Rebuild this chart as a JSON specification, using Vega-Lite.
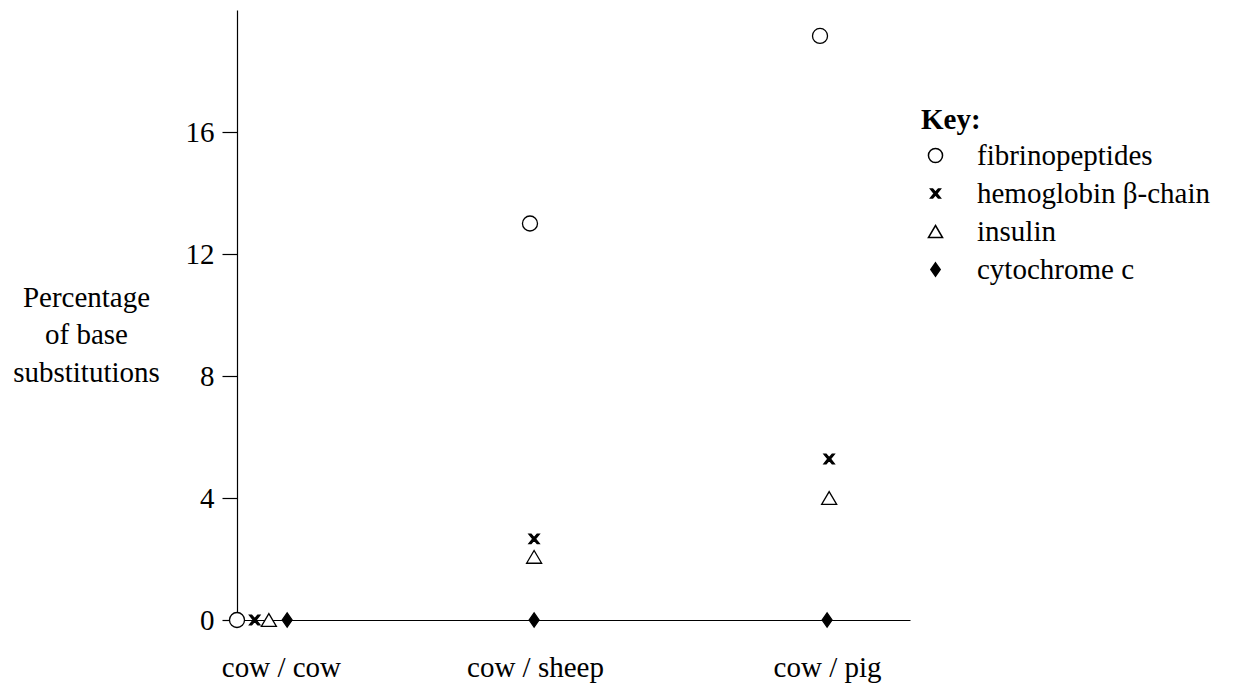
{
  "$schema": "https://vega.github.io/schema/vega-lite/v6.json",
  "autosize": "none",
  "width": 673,
  "height": 610,
  "padding": {"left": 237, "top": 10, "right": 333, "bottom": 73},
  "background": "white",
  "config": {
    "view": {"stroke": null},
    "font": "Liberation Serif",
    "axis": {"domainColor": "black", "tickColor": "black", "labelColor": "black", "titleColor": "black", "grid": false, "domainWidth": 1.2, "tickWidth": 1.2, "labelFont": "Liberation Serif", "titleFont": "Liberation Serif"},
    "legend": {"labelFont": "Liberation Serif", "titleFont": "Liberation Serif"}
  },
  "data": {
    "values": [
      {"comparison": "cow / cow", "protein": "fibrinopeptides", "pos": 0.0, "percent": 0},
      {"comparison": "cow / cow", "protein": "hemoglobin β-chain", "pos": 0.06, "percent": 0},
      {"comparison": "cow / cow", "protein": "insulin", "pos": 0.108, "percent": 0},
      {"comparison": "cow / cow", "protein": "cytochrome c", "pos": 0.17, "percent": 0},
      {"comparison": "cow / sheep", "protein": "fibrinopeptides", "pos": 0.993, "percent": 13.0},
      {"comparison": "cow / sheep", "protein": "hemoglobin β-chain", "pos": 1.007, "percent": 2.66},
      {"comparison": "cow / sheep", "protein": "insulin", "pos": 1.007, "percent": 2.07},
      {"comparison": "cow / sheep", "protein": "cytochrome c", "pos": 1.007, "percent": 0},
      {"comparison": "cow / pig", "protein": "fibrinopeptides", "pos": 1.976, "percent": 19.15},
      {"comparison": "cow / pig", "protein": "hemoglobin β-chain", "pos": 2.007, "percent": 5.28},
      {"comparison": "cow / pig", "protein": "insulin", "pos": 2.007, "percent": 4.0},
      {"comparison": "cow / pig", "protein": "cytochrome c", "pos": 2.0, "percent": 0}
    ]
  },
  "mark": {"type": "point", "filled": true, "stroke": "black", "strokeWidth": 1.3, "opacity": 1, "size": 256},
  "encoding": {
    "x": {
      "field": "pos",
      "type": "quantitative",
      "scale": {"domain": [0, 2.281], "nice": false, "zero": false},
      "axis": {
        "title": null,
        "values": [0.149, 1.01, 2.0],
        "labelExpr": "datum.value < 0.5 ? 'cow / cow' : (datum.value < 1.5 ? 'cow / sheep' : 'cow / pig')",
        "ticks": false,
        "labelPadding": 33,
        "labelFontSize": 29,
        "labelFlush": false,
        "labelOverlap": false
      }
    },
    "y": {
      "field": "percent",
      "type": "quantitative",
      "scale": {"domain": [0, 20], "nice": false},
      "axis": {
        "title": ["Percentage", "of base", "substitutions"],
        "titleAngle": 0,
        "titleAlign": "center",
        "titleBaseline": "middle",
        "titleX": -151,
        "titleY": 287,
        "titleFontSize": 29,
        "titleFontWeight": "normal",
        "titleLineHeight": 37.5,
        "values": [0, 4, 8, 12, 16],
        "tickSize": 15,
        "labelPadding": 8,
        "labelFontSize": 29
      }
    },
    "shape": {
      "field": "protein",
      "type": "nominal",
      "scale": {
        "domain": ["fibrinopeptides", "hemoglobin β-chain", "insulin", "cytochrome c"],
        "range": [
          "M-0.94,0A0.94,0.94 0 1,0 0.94,0A0.94,0.94 0 1,0 -0.94,0Z",
          "M-0.65,-0.6L-0.38,-0.6L0,-0.16L0.38,-0.6L0.65,-0.6L0.17,0L0.65,0.6L0.38,0.6L0,0.16L-0.38,0.6L-0.65,0.6L-0.17,0Z",
          "M0,-0.8L0.94,0.8L-0.94,0.8Z",
          "M0,-0.88L0.62,0L0,0.88L-0.62,0Z"
        ]
      },
      "legend": {
        "title": "Key:",
        "orient": "none",
        "legendX": 684,
        "legendY": 96,
        "padding": 0,
        "titleFontSize": 29,
        "titleFontWeight": "bold",
        "titleColor": "black",
        "titlePadding": 6,
        "labelFontSize": 29,
        "labelColor": "black",
        "labelOffset": 27,
        "labelLimit": 400,
        "symbolSize": 225,
        "rowPadding": 8,
        "encode": {
          "symbols": {"update": {"stroke": {"value": "black"}, "strokeWidth": {"value": 1.2}, "opacity": {"value": 1}}},
          "labels": {"update": {"font": {"value": "Liberation Serif"}}}
        }
      }
    },
    "fill": {
      "field": "protein",
      "type": "nominal",
      "scale": {
        "domain": ["fibrinopeptides", "hemoglobin β-chain", "insulin", "cytochrome c"],
        "range": ["white", "black", "white", "black"]
      },
      "legend": {"title": "Key:"}
    }
  }
}
